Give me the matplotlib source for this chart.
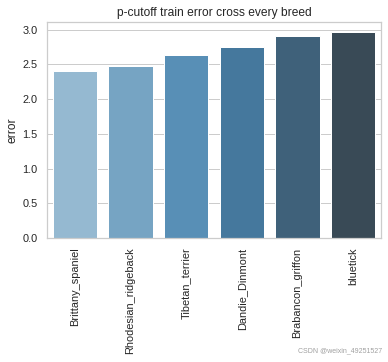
import matplotlib
matplotlib.use("Agg")
import matplotlib.pyplot as plt
import seaborn as sns
import pandas as pd

# 各品种的训练误差
breeds = ["Brittany_spaniel", "Rhodesian_ridgeback", "Tibetan_terrier",
          "Dandie_Dinmont", "Brabancon_griffon", "bluetick"]
errors = [2.41, 2.48, 2.63, 2.75, 2.90, 2.96]

sns.set_theme(style="whitegrid")
plt.rcParams["font.family"] = ["Liberation Sans", "DejaVu Sans"]

df = pd.DataFrame({"breed": breeds, "error": errors})

fig = plt.figure(figsize=(388 / 72, 362 / 72), dpi=72)
ax = fig.add_axes([47 / 388, 1 - 238 / 362, 334 / 388, 216 / 362])
sns.barplot(data=df, x="breed", y="error", hue="breed",
            palette="Blues_d", legend=False, ax=ax)
ax.set_xlabel("")
ax.set_ylabel("error")
ax.set_title("p-cutoff train error cross every breed")
ax.tick_params(axis="x", labelrotation=90)

fig.text(0.985, 0.02, "CSDN @weixin_49251527", ha="right", va="bottom",
         fontsize=7, color="#a0a0a0")

fig.savefig("out.png", dpi=72)
plt.close(fig)
